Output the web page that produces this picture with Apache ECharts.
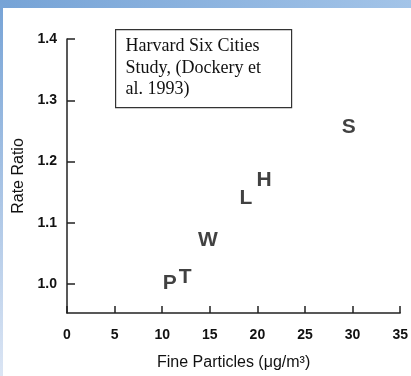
<!DOCTYPE html>
<html>
<head>
<meta charset="utf-8">
<script src="https://cdn.jsdelivr.net/npm/echarts@6/dist/echarts.min.js"></script>
<style>
html, body { margin: 0; padding: 0; background: #fff; }
#main { width: 411px; height: 376px; }
</style>
</head>
<body>
<div id="main"></div>
<script>
// city letters, fine particles (ug/m3) and rate ratio
var cities = ['P', 'T', 'W', 'L', 'H', 'S'];
var fineParticles = [10.8, 12.4, 14.8, 18.8, 20.7, 29.6];
var rateRatio = [1.002, 1.011, 1.071, 1.141, 1.170, 1.256];
var yTicks = [1.0, 1.1, 1.2, 1.3, 1.4];
var noteLines = ['Harvard Six Cities', 'Study, (Dockery et', 'al. 1993)'];

var chart = echarts.init(document.getElementById('main'));

var points = [];
for (var i = 0; i < cities.length; i++) {
    points.push({ name: cities[i], value: [fineParticles[i], rateRatio[i]] });
}

var option = {
    backgroundColor: '#fff',
    animation: false,
    grid: { left: 67, right: 9, top: 39, bottom: 61 },
    xAxis: {
        type: 'value',
        min: 0,
        max: 35,
        interval: 5,
        name: 'Fine Particles (\u03bcg/m\u00b3)',
        nameLocation: 'middle',
        nameGap: 42,
        nameTextStyle: { fontFamily: 'Liberation Sans', fontSize: 16, color: '#111' },
        axisLine: { lineStyle: { color: '#222', width: 1.5 } },
        axisTick: { inside: true, length: 7, lineStyle: { color: '#222', width: 1.5 } },
        axisLabel: { margin: 15, fontFamily: 'Liberation Sans', fontWeight: 'bold', fontSize: 14, color: '#111' },
        splitLine: { show: false }
    },
    yAxis: {
        type: 'value',
        min: 0.953,
        max: 1.4,
        name: 'Rate Ratio',
        nameLocation: 'middle',
        nameGap: 40,
        nameTextStyle: { fontFamily: 'Liberation Sans', fontSize: 16, color: '#111' },
        axisLine: { lineStyle: { color: '#222', width: 1.5 } },
        axisTick: { inside: true, length: 8, customValues: yTicks, lineStyle: { color: '#222', width: 1.5 } },
        axisLabel: {
            margin: 10,
            customValues: yTicks,
            fontFamily: 'Liberation Sans', fontWeight: 'bold', fontSize: 14, color: '#111',
            formatter: function (v) { return v.toFixed(1); }
        },
        splitLine: { show: false }
    },
    series: [{
        type: 'scatter',
        symbolSize: 0,
        data: points,
        label: {
            show: true,
            position: 'inside',
            formatter: '{b}',
            fontFamily: 'Liberation Sans',
            fontWeight: 'bold',
            fontSize: 21,
            color: '#111'
        }
    }],
    graphic: [
        {
            type: 'rect', left: 0, top: 0, silent: true,
            shape: { width: 411, height: 8 },
            style: {
                fill: new echarts.graphic.LinearGradient(0, 0, 1, 0, [
                    { offset: 0, color: '#76a3d6' },
                    { offset: 1, color: '#a3c4e8' }
                ])
            }
        },
        {
            type: 'rect', left: 0, top: 0, silent: true,
            shape: { width: 3, height: 376 },
            style: {
                fill: new echarts.graphic.LinearGradient(0, 0, 0, 1, [
                    { offset: 0, color: '#76a3d6' },
                    { offset: 1, color: '#dbe5f4' }
                ])
            }
        },
        {
            type: 'group', left: 115, top: 29,
            children: [
                {
                    type: 'rect',
                    shape: { x: 0, y: 0, width: 176, height: 78 },
                    style: { fill: '#fff', stroke: '#333', lineWidth: 1.2 }
                },
                {
                    type: 'text', x: 10, y: 6,
                    style: {
                        text: noteLines.join('\n'),
                        fontFamily: 'Liberation Serif',
                        fontSize: 18,
                        lineHeight: 21.5,
                        fill: '#111'
                    }
                }
            ]
        }
    ]
};

chart.setOption(option);
</script>
</body>
</html>
